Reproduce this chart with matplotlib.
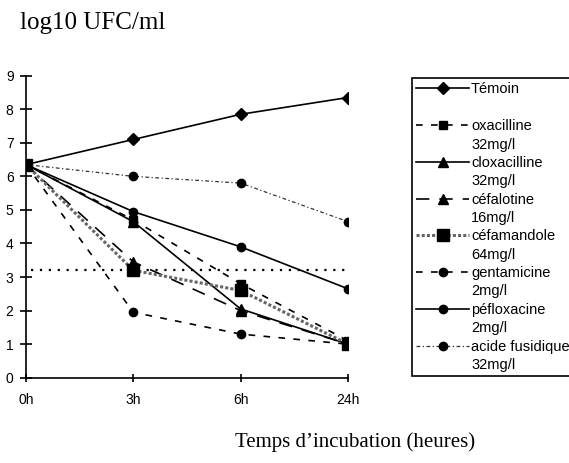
import numpy as np
import matplotlib.pyplot as plt
from matplotlib.lines import Line2D

# données (log10 UFC/ml)
temps = ["0h", "3h", "6h", "24h"]
temoin = [6.35, 7.1, 7.85, 8.35]
oxacilline = [6.35, 4.7, 2.8, 1.1]
cloxacilline = [6.35, 4.65, 2.05, 1.0]
cefalotine = [6.35, 3.45, 2.0, 1.0]
cefamandole = [6.35, 3.2, 2.6, 1.0]
gentamicine = [6.35, 1.95, 1.3, 1.0]
pefloxacine = [6.35, 4.95, 3.9, 2.65]
acide_fusidique = [6.35, 6.0, 5.8, 4.65]
seuil = 3.2

series = [
    ("Témoin", "", temoin, "-", "D", 6),
    ("oxacilline", "32mg/l", oxacilline, (0, (4, 5)), "s", 6),
    ("cloxacilline", "32mg/l", cloxacilline, "-", "^", 7),
    ("céfalotine", "16mg/l", cefalotine, (0, (8, 6)), "^", 7),
    ("céfamandole", "64mg/l", cefamandole, (0, (1, 0.7)), "s", 9),
    ("gentamicine", "2mg/l", gentamicine, (0, (4, 5)), "o", 6),
    ("péfloxacine", "2mg/l", pefloxacine, "-", "o", 6),
    ("acide fusidique", "32mg/l", acide_fusidique, (0, (3, 2, 1, 2)), "o", 6),
]

fig = plt.figure(figsize=(5.69, 4.63), dpi=100)
ax = fig.add_axes([0.0457, 0.1842, 0.5659, 0.6523])

x = np.arange(len(temps))
handles = []
labels = []
for nom, dose, vals, ls, mk, ms in series:
    lw, col = 1.2, "black"
    if nom == "céfamandole":
        lw, col = 2.2, "0.4"
    if nom == "acide fusidique":
        lw, col = 0.9, "0.2"
    ln, = ax.plot(x, vals, color=col, linestyle=ls, linewidth=lw,
                  marker=mk, markersize=ms, markerfacecolor="black",
                  markeredgecolor="black")
    handles.append(ln)
    labels.append(nom)
    handles.append(Line2D([], [], linestyle="none"))
    labels.append(dose)

ax.plot([x[0] + 0.05, x[-1]], [seuil, seuil], color="black",
        linestyle=(0, (1, 3)), linewidth=1.6)

ax.set_xlim(0, 3)
ax.set_ylim(0, 9)
ax.set_xticks(x)
ax.set_xticklabels(temps)
ax.set_yticks(range(0, 10))
for s in ["top", "right"]:
    ax.spines[s].set_visible(False)
for s in ["left", "bottom"]:
    ax.spines[s].set_linewidth(1.2)
ax.tick_params(axis="y", direction="inout", length=8, width=1.2, pad=5,
               labelsize=10, labelfontfamily="Liberation Sans")
ax.tick_params(axis="x", direction="inout", length=6, width=1.2, pad=8,
               labelsize=10, labelfontfamily="Liberation Sans")

leg = fig.legend(handles, labels, loc="upper left",
                 bbox_to_anchor=(412 / 569, 1 - 78 / 463), borderaxespad=0,
                 prop={"family": "Liberation Sans", "size": 10.5},
                 handlelength=3.6, handletextpad=0.15, labelspacing=0.3,
                 borderpad=0.3, fancybox=False, framealpha=1,
                 edgecolor="black")
leg.get_frame().set_linewidth(1.2)

fig.text(20 / 569, 1 - 29 / 463, "log10 UFC/ml", family="Liberation Serif",
         fontsize=18, va="baseline", ha="left")
fig.text(355 / 569, 1 - 447 / 463, "Temps d\u2019incubation (heures)",
         family="Liberation Serif", fontsize=15, va="baseline", ha="center")

fig.savefig("out.png", dpi=100)
